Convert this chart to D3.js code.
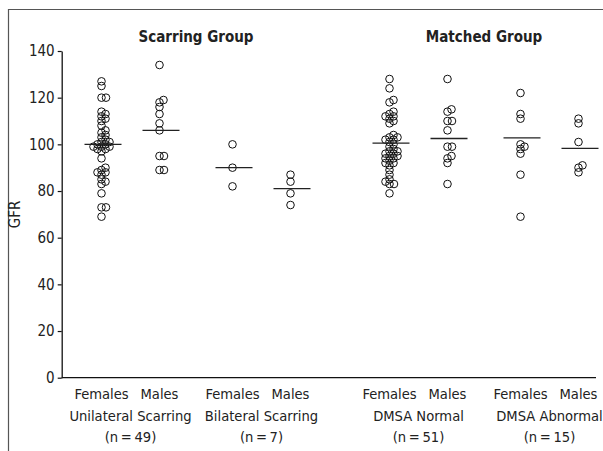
<!DOCTYPE html>
<html><head><meta charset="utf-8">
<script src="https://cdn.jsdelivr.net/npm/d3@7"></script>
<style>
html,body{margin:0;padding:0;background:#fff;}
svg{display:block;}
text{font-family:"Liberation Sans Narrow","Arial Narrow","DejaVu Sans Condensed","Roboto Condensed","Liberation Sans",sans-serif;fill:#222;}
</style></head>
<body>
<svg id="chart" width="603" height="451"></svg>
<script>
// ---- data ----
const supers = ["Scarring Group", "Matched Group"];
const groups = ["Unilateral Scarring", "Bilateral Scarring", "DMSA Normal", "DMSA Abnormal"];
const groupSuper = ["Scarring Group", "Scarring Group", "Matched Group", "Matched Group"];
const groupN = ["(n\u2009=\u200949)", "(n\u2009=\u20097)", "(n\u2009=\u200951)", "(n\u2009=\u200915)"];
const sexes = ["Females", "Males"];
const yTicks = [0, 20, 40, 60, 80, 100, 120, 140];

const unilateralFemales = [127,125,120,120,114,113,112,111,110,108,106,105,104,103,102,101,101,100,100,99,99,99,98,98,97,94,90,89,88,88,87,85,84,83,79,73,73,69];
const unilateralMales = [134,119,118,116,113,109,106,95,95,89,89];
const bilateralFemales = [100,90,82];
const bilateralMales = [87,84,79,74];
const dmsaNormalFemales = [128,124,119,118,114,113,112,112,111,110,109,104,103,103,102,102,101,100,99,98,97,97,96,96,95,95,94,94,93,92,92,91,89,87,85,84,83,83,79];
const dmsaNormalMales = [128,115,114,110,110,106,99,99,95,94,92,83];
const dmsaAbnormalFemales = [122,113,111,100,99,98,96,87,69];
const dmsaAbnormalMales = [111,109,101,91,90,88];
const meanFemales = [100, 90, 100.5, 102.8];
const meanMales = [106, 81, 102.5, 98.3];

const seriesValues = [
  [unilateralFemales, unilateralMales],
  [bilateralFemales, bilateralMales],
  [dmsaNormalFemales, dmsaNormalMales],
  [dmsaAbnormalFemales, dmsaAbnormalMales]
];
const means = [meanFemales, meanMales];

// ---- layout ----
const svg = d3.select("#chart");
const y = d3.scaleLinear().domain([0, 140]).range([377.7, 51]);
const xSuper = d3.scalePoint().domain(supers).range([196, 484]);
const xGroupOff = d3.scalePoint().domain([0, 1]).range([-65.5, 65.5]);
const xSexOff = d3.scalePoint().domain(sexes).range([-29, 29]);
const groupX = i => xSuper(groupSuper[i]) + xGroupOff(groups.filter((g, j) => groupSuper[j] === groupSuper[i]).indexOf(groups[i]));
const sexX = (i, s) => groupX(i) + xSexOff(s);

// frame
svg.append("path").attr("d", "M8.5,451 V9.5 H603").attr("fill", "none").attr("stroke", "#555").attr("stroke-width", 1.2);

// y axis
const yAxis = d3.axisLeft(y).tickValues(yTicks).tickSize(4).tickPadding(3).tickSizeOuter(0);
const gy = svg.append("g").attr("transform", "translate(61.7,0)").call(yAxis);
gy.select(".domain").attr("stroke", "#111").attr("stroke-width", 1.3);
gy.selectAll(".tick line").attr("stroke", "#111").attr("stroke-width", 1.2);
gy.selectAll(".tick text").attr("font-size", 15).attr("fill", "#222")
  .style("font-family", '"Liberation Sans Narrow","Arial Narrow","DejaVu Sans Condensed","Liberation Sans",sans-serif');

// x axis line
svg.append("line").attr("x1", 61.7).attr("x2", 596).attr("y1", y(0)).attr("y2", y(0))
  .attr("stroke", "#111").attr("stroke-width", 1.3);

// GFR label
svg.append("text").attr("transform", `translate(20,${(y(80)+y(60))/2}) rotate(-90)`)
  .attr("text-anchor", "middle").attr("font-size", 15).text("GFR");

// super titles
svg.selectAll(".super").data(supers).enter().append("text")
  .attr("x", d => xSuper(d)).attr("y", 42).attr("text-anchor", "middle")
  .attr("font-size", 15).attr("font-weight", "bold").text(d => d);

// x labels
groups.forEach((g, i) => {
  sexes.forEach(s => {
    svg.append("text").attr("x", sexX(i, s)).attr("y", 399).attr("text-anchor", "middle")
      .attr("font-size", 14.6).text(s);
  });
  svg.append("text").attr("x", groupX(i)).attr("y", 420.5).attr("text-anchor", "middle")
    .attr("font-size", 14.6).text(g);
  svg.append("text").attr("x", groupX(i)).attr("y", 442).attr("text-anchor", "middle")
    .attr("font-size", 14.6).text(groupN[i]);
});

// beeswarm placement
function swarm(vals, cx) {
  const minD = 4.4;
  const placed = [];
  const sorted = vals.map(v => ({v, py: y(v)})).sort((a, b) => b.py - a.py);
  sorted.forEach(p => {
    let best = 0;
    for (let k = 0; k < 60; k++) {
      const cands = k === 0 ? [0] : [k * 0.5, -k * 0.5];
      let ok = null;
      for (const off of cands) {
        if (placed.every(q => Math.hypot(q.dx - off, q.py - p.py) >= minD)) { ok = off; break; }
      }
      if (ok !== null) { best = ok; break; }
    }
    p.dx = best; placed.push(p);
  });
  return placed.map(p => ({x: cx + p.dx, y: p.py}));
}

const pts = svg.append("g");
seriesValues.forEach((pair, i) => {
  pair.forEach((vals, si) => {
    const cx = sexX(i, sexes[si]);
    const pos = swarm(vals, cx);
    pts.selectAll(null).data(pos).enter().append("circle")
      .attr("cx", d => d.x).attr("cy", d => d.y).attr("r", 3.8)
      .attr("fill", "none").attr("stroke", "#111").attr("stroke-width", 1);
    const m = means[si][i];
    pts.append("line").attr("x1", cx - 17).attr("x2", cx + 20).attr("y1", y(m)).attr("y2", y(m))
      .attr("stroke", "#222").attr("stroke-width", 1.3);
  });
});
</script>
</body></html>
